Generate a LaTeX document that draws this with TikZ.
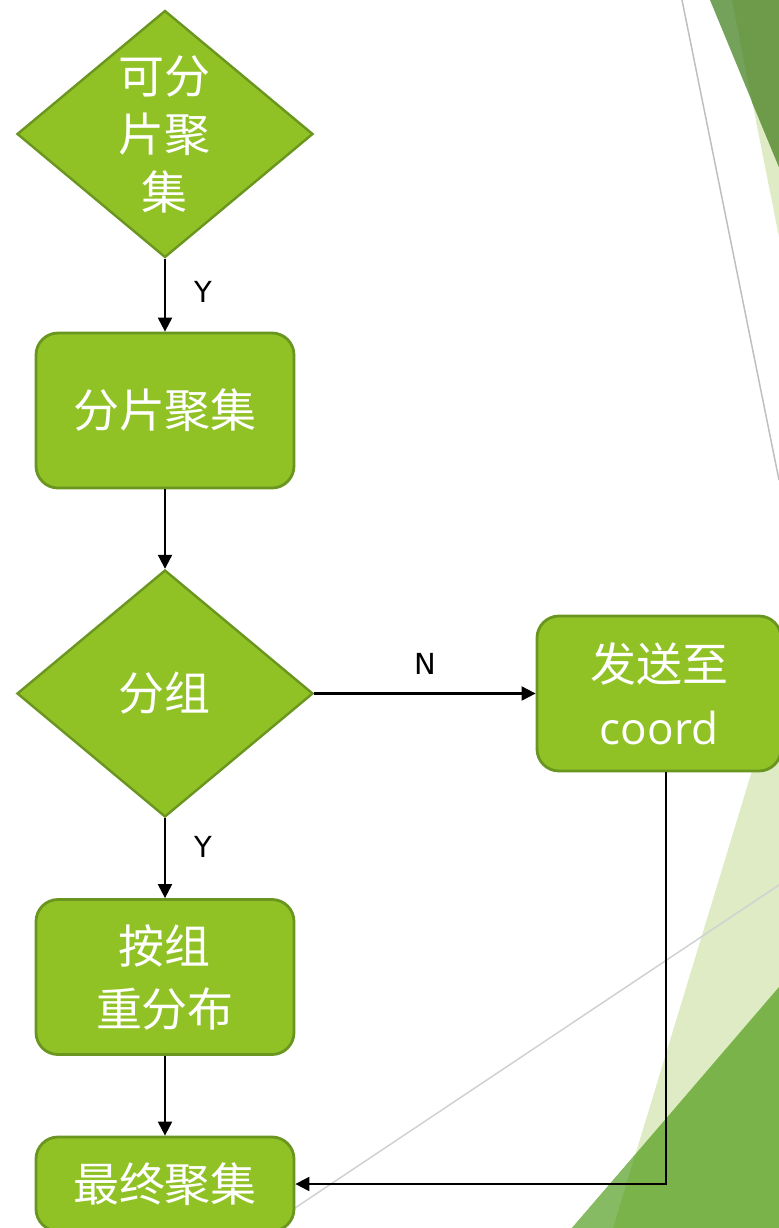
\documentclass[tikz,border=0pt]{standalone}
\usepackage{fontspec}
\setmainfont{DejaVu Sans}
\newfontfamily\cjk{Noto Sans CJK SC}
\newfontfamily\latin{Open Sans}
\usetikzlibrary{shapes.geometric,arrows.meta,positioning}
\definecolor{leaf}{HTML}{90C226}
\definecolor{leafline}{HTML}{6A951F}
\definecolor{moss}{HTML}{74A25A}
\definecolor{mossdeep}{HTML}{6E9B4A}
\definecolor{sprout}{HTML}{7BB34B}
\definecolor{sproutlt}{HTML}{86BA63}
\definecolor{pale}{HTML}{DFEBC4}
\tikzset{
  box/.style={draw=leafline,fill=leaf,line width=1.4pt,rounded corners=11pt,
    minimum width=129pt,minimum height=77.5pt,inner sep=0pt,
    text=white,align=center,font=\cjk\fontsize{23}{31.5}\selectfont},
  test/.style={diamond,draw=leafline,fill=leaf,line width=1.2pt,
    minimum width=148pt,minimum height=123.5pt,inner sep=0pt},
  inside/.style={text=white,align=center,font=\cjk\fontsize{23}{29}\selectfont},
  go/.style={-{Triangle[length=7pt,width=7pt]},line width=1.1pt},
  yn/.style={font=\fontsize{14.5}{14.5}\selectfont,inner sep=0pt}
}
\begin{document}
\begin{tikzpicture}[x=0.5pt,y=-0.5pt]
\useasboundingbox (0,0) rectangle (779,1228);
\clip (0,0) rectangle (779,1228);
%\draw[help lines,step=50] (0,0) grid (779,1228);
% background of the slide
\fill[pale] (732,0) -- (779,0) -- (779,237) -- cycle;
\fill[moss] (710,0) -- (779,0) -- (779,167) -- cycle;
\fill[mossdeep] (732,0) -- (779,0) -- (779,167) -- (752,102) -- cycle;
\draw[black!25,line width=0.75pt] (682,0) -- (779,480);
\fill[pale] (779,682) -- (779,1228) -- (613,1228) -- cycle;
\fill[sprout] (779,987) -- (779,1228) -- (572,1228) -- cycle;
\fill[sproutlt] (572,1228) -- (635,1155) -- (613,1228) -- cycle;
\draw[black!18,line width=0.75pt] (779,885) -- (265,1228);
% flow
\node[test,label={[inside]center:可分\\片聚\\集}] (q1) at (165,134) {};
\node[box] (b1) at (165,410.5) {分片聚集};
\node[test,label={[inside]center:分组}] (q2) at (165,693.5) {};
\node[box,minimum width=122pt] (send) at (659,693.5) {发送至\\{\latin\fontsize{22}{28}\selectfont coord}};
\node[box] (b3) at (165,977) {按组\\重分布};
\node[box,minimum height=47pt] (fin) at (165,1184) {最终聚集};
\draw[go] (q1) -- node[yn,pos=.45,right=14pt]{Y} (b1);
\draw[go] (b1) -- (q2);
\draw[go] (q2) -- node[yn,pos=.5,above=9pt]{N} (send);
\draw[go] (q2) -- node[yn,pos=.36,right=14pt]{Y} (b3);
\draw[go] (b3) -- (fin);
\draw[go] ([xshift=3.5pt]send.south) |- (fin.east);
\end{tikzpicture}
\end{document}
